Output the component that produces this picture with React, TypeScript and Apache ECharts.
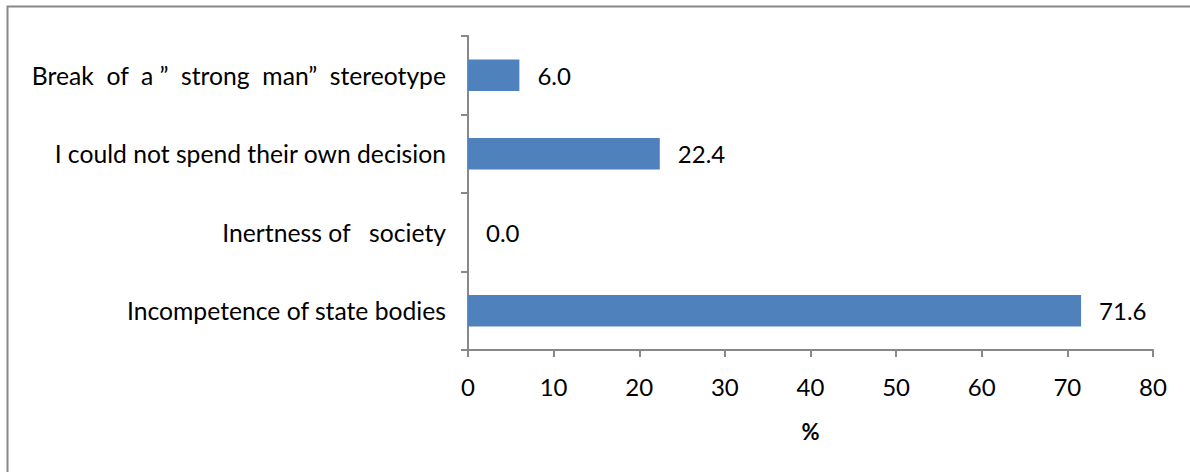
import React, { useEffect, useRef } from "react";
import * as echarts from "echarts";

const categories = [
  "Incompetence of state bodies",
  "Inertness of   society",
  "I could not spend their own decision",
  "Break  of  a ”  strong  man”  stereotype",
];
const values = [71.6, 0.0, 22.4, 6.0];
const xTicks = { min: 0, max: 80, interval: 10 };
const xAxisTitle = "%";

export default function App() {
  const ref = useRef<HTMLDivElement>(null);
  useEffect(() => {
    if (!ref.current) return;
    const chart = echarts.init(ref.current, null, { renderer: "svg" });
    const font = "Lato";
    const fs = 24;
    chart.setOption({
      animation: false,
      backgroundColor: "#ffffff",
      graphic: [
        {
          type: "rect",
          shape: { x: 7.5, y: 6.5, width: 1300, height: 600 },
          style: { fill: "none", stroke: "#888888", lineWidth: 2 },
          silent: true,
        },
      ],
      grid: { left: 468, right: 37, top: 36, bottom: 122, containLabel: false },
      xAxis: {
        type: "value",
        min: xTicks.min,
        max: xTicks.max,
        interval: xTicks.interval,
        name: xAxisTitle,
        nameLocation: "middle",
        nameGap: 70,
        nameTextStyle: { fontFamily: font, fontSize: 22, fontWeight: "bold", color: "#000" },
        axisLine: { show: true, lineStyle: { color: "#888888", width: 2 } },
        axisTick: { show: true, length: 7, inside: false, lineStyle: { color: "#888888", width: 2 } },
        axisLabel: { fontFamily: font, fontSize: fs, color: "#000", margin: 24 },
        splitLine: { show: false },
      },
      yAxis: {
        type: "category",
        data: categories,
        axisLine: { show: true, lineStyle: { color: "#888888", width: 2 } },
        axisTick: { show: true, length: 7, lineStyle: { color: "#888888", width: 2 } },
        axisLabel: { fontFamily: font, fontSize: 24.7, color: "#000", margin: 22 },
      },
      series: [
        {
          type: "bar",
          data: values,
          barWidth: "40%",
          itemStyle: { color: "#4F81BD" },
          label: {
            show: true,
            position: "right",
            distance: 18,
            fontFamily: font,
            fontSize: fs,
            color: "#000",
            formatter: (p: any) => Number(p.value).toFixed(1),
          },
        },
      ],
    });
    return () => chart.dispose();
  }, []);
  return (
    <div
      ref={ref}
      style={{ position: "fixed", left: 0, top: 0, width: 1190, height: 472 }}
    />
  );
}
